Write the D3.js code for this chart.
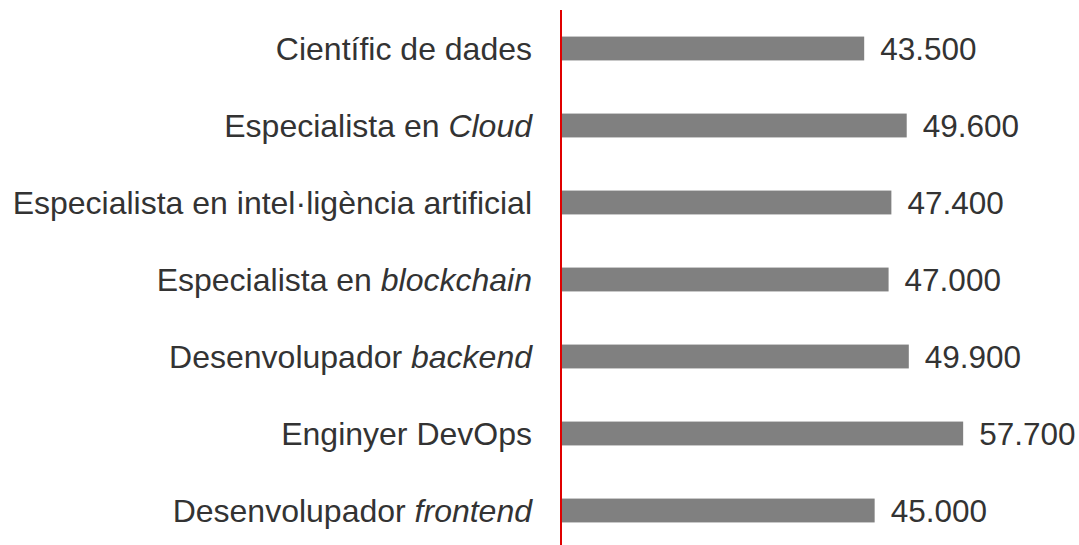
<!DOCTYPE html>
<html>
<head>
<meta charset="utf-8">
<script src="https://cdn.jsdelivr.net/npm/d3@7"></script>
<style>
  body { margin: 0; background: #fff; }
  svg { display: block; font-family: "Liberation Sans", Arial, sans-serif; }
</style>
</head>
<body>
<svg width="1079" height="545"></svg>
<script>
// label parts: [text, italic?]
var labels = [
  [["Científic de dades", false]],
  [["Especialista en ", false], ["Cloud", true]],
  [["Especialista en intel·ligència artificial", false]],
  [["Especialista en ", false], ["blockchain", true]],
  [["Desenvolupador ", false], ["backend", true]],
  [["Enginyer DevOps", false]],
  [["Desenvolupador ", false], ["frontend", true]]
];
var values = [43500, 49600, 47400, 47000, 49900, 57700, 45000];
var valueLabels = ["43.500", "49.600", "47.400", "47.000", "49.900", "57.700", "45.000"];

var svg = d3.select("svg");
var x0 = 561;

var x = d3.scaleLinear().domain([0, 10000]).range([x0, x0 + 69.7]);
var y = d3.scaleBand()
      .domain(d3.range(values.length))
      .range([10, 549])
      .paddingInner(0.69)
      .paddingOuter(0.345);

svg.append("g").selectAll("rect")
    .data(values)
    .enter().append("rect")
      .attr("x", x(0))
      .attr("y", function(d, i) { return y(i); })
      .attr("width", function(d) { return x(d) - x(0); })
      .attr("height", y.bandwidth())
      .attr("fill", "#808080");

svg.append("g").selectAll("text")
    .data(values)
    .enter().append("text")
      .attr("x", function(d) { return x(d) + 16; })
      .attr("y", function(d, i) { return y(i) + y.bandwidth() / 2; })
      .attr("dy", "0.36em")
      .attr("font-size", 31.5)
      .attr("fill", "#333")
      .text(function(d, i) { return valueLabels[i]; });

var lab = svg.append("g").selectAll("text")
    .data(labels)
    .enter().append("text")
      .attr("x", 532)
      .attr("y", function(d, i) { return y(i) + y.bandwidth() / 2; })
      .attr("dy", "0.36em")
      .attr("text-anchor", "end")
      .attr("font-size", 32)
      .attr("fill", "#333");

lab.selectAll("tspan")
    .data(function(d) { return d; })
    .enter().append("tspan")
      .attr("font-style", function(d) { return d[1] ? "italic" : "normal"; })
      .text(function(d) { return d[0]; });

svg.append("line")
    .attr("x1", x0).attr("x2", x0)
    .attr("y1", 10).attr("y2", 545)
    .attr("stroke", "#e00000")
    .attr("stroke-width", 2);
</script>
</body>
</html>
